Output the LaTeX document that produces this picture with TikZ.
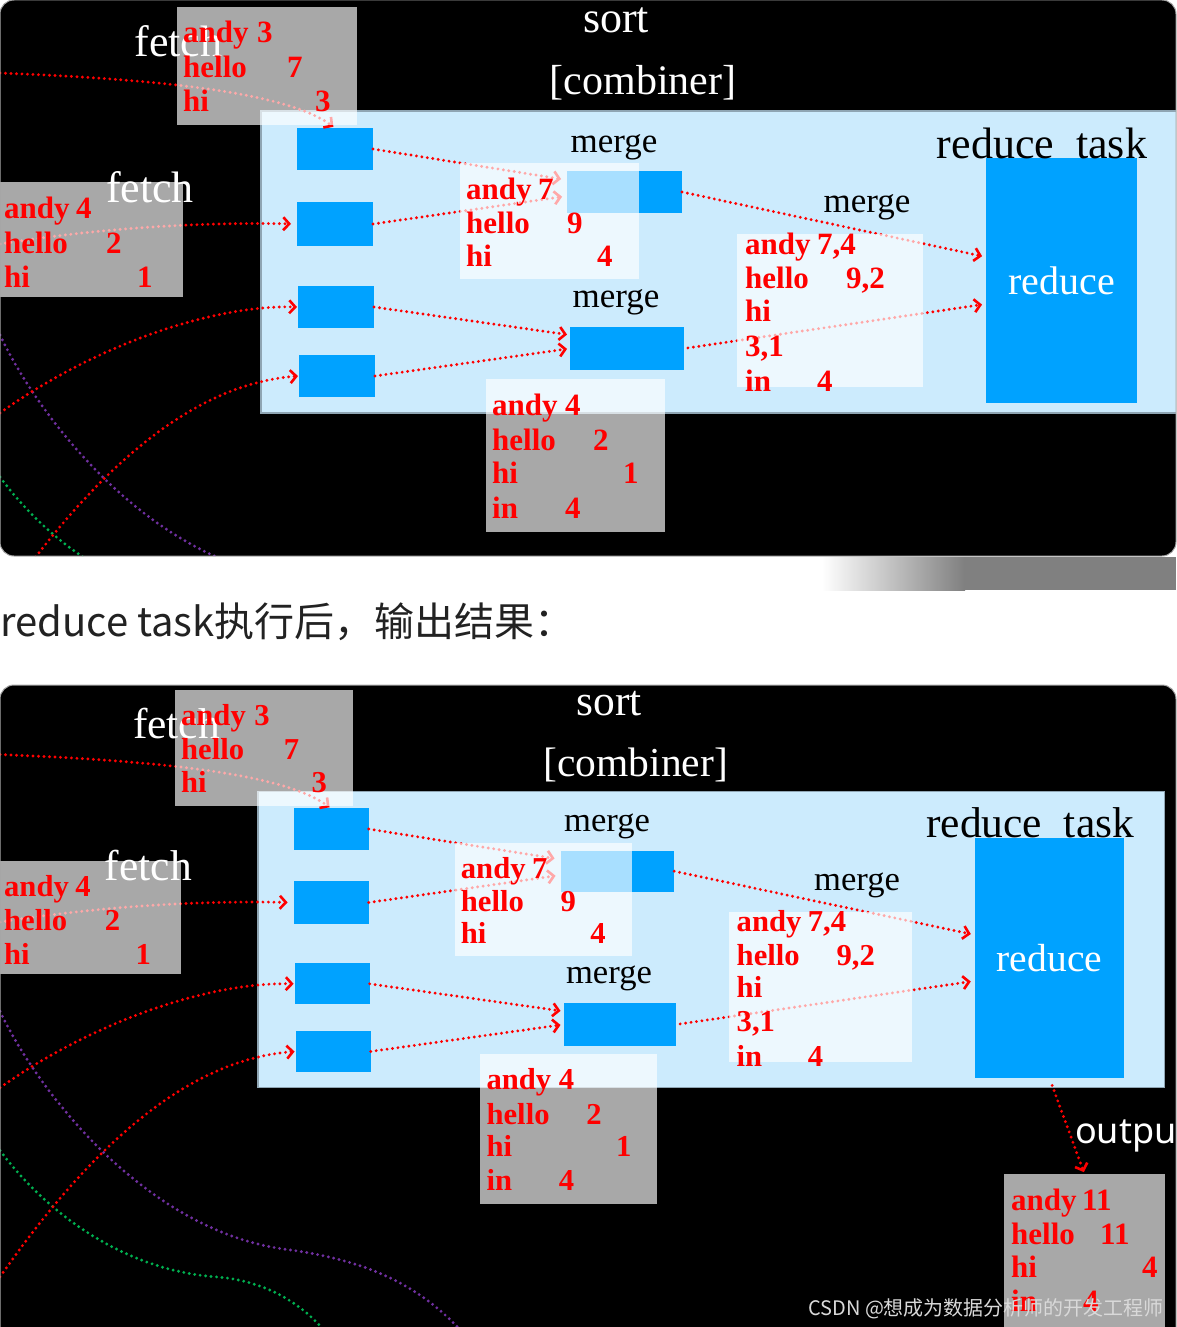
\documentclass[tikz,border=0pt]{standalone}
\usepackage{fontspec}
\usetikzlibrary{arrows.meta}
\newfontfamily\serifA{Liberation Serif}
\newfontfamily\sansA{Noto Sans}
\newfontfamily\cjkA{Noto Sans CJK SC}
\definecolor{regblue}{HTML}{CCEBFD}
\definecolor{regedge}{HTML}{8FA5B3}
\definecolor{boxblue}{HTML}{00A2FF}
\definecolor{datred}{HTML}{FF0000}
\definecolor{cpurple}{HTML}{7030A0}
\definecolor{cgreen}{HTML}{00B050}
\definecolor{captxt}{HTML}{222222}
\definecolor{wmark}{HTML}{D9D9D9}
\tikzset{
  region/.style={fill=regblue, draw=regedge, line width=1.2pt, inner sep=0pt, outer sep=0pt},
  blk/.style={fill=boxblue, draw=none, inner sep=0pt, outer sep=0pt},
  veil/.style={fill=white, fill opacity=0.66, draw=none, inner sep=0pt, outer sep=0pt},
  wlbl/.style={anchor=base, inner sep=0pt, text=white, font=\serifA\fontsize{44}{48}\selectfont},
  blbl/.style={anchor=base, inner sep=0pt, text=black, font=\serifA\fontsize{35}{38}\selectfont},
  dat/.style={anchor=base west, inner sep=0pt, text=datred, font=\serifA\bfseries\fontsize{31}{34}\selectfont},
  arr/.style={draw=datred, line width=3.2pt, line cap=round, dash pattern=on 0pt off 5.5pt,
    -{Straight Barb[length=6pt,width=13pt,line width=2.6pt]}},
  curve/.style={line width=3.2pt, line cap=round, dash pattern=on 0pt off 5.5pt},
}
\newcommand\kv[6]{%
  \node[dat] (#1k) at (#2,#3) {#4};
  \node[dat] (#1v) at (#5,#3) {#6};}
\newcommand\kone[4]{\node[dat] (#1k) at (#2,#3) {#4};}
\newcommand\drawslide[1]{%
  % light blue task region
  \node[region, minimum width=917pt, minimum height=302pt, anchor=north west] (#1reg) at (261,111) {};
  % blue boxes
  \node[blk, minimum width=76pt, minimum height=42pt] (#1b1) at (335,149) {};
  \node[blk, minimum width=76pt, minimum height=44pt] (#1b2) at (335,224) {};
  \node[blk, minimum width=76pt, minimum height=42pt] (#1b3) at (336,307) {};
  \node[blk, minimum width=76pt, minimum height=42pt] (#1b4) at (337,376) {};
  \node[blk, minimum width=115pt, minimum height=42pt] (#1m1) at (624.5,192) {};
  \node[blk, minimum width=114pt, minimum height=43pt] (#1m2) at (627,348.5) {};
  \node[blk, minimum width=151pt, minimum height=245pt, text=white,
        font=\serifA\fontsize{40}{44}\selectfont] (#1red) at (1061.5,280.5) {reduce};
  % labels
  \node[wlbl] (#1fa) at (178.5,57) {fetch};
  \node[wlbl] (#1fb) at (150,202) {fetch};
  \node[wlbl] (#1so) at (616,33) {sort};
  \node[wlbl, font=\serifA\fontsize{42}{46}\selectfont] (#1co) at (643,95) {[combiner]};
  \node[blbl] (#1mg1) at (614,152) {merge};
  \node[blbl] (#1mg2) at (616,307) {merge};
  \node[blbl] (#1mg3) at (867,212) {merge};
  \node[blbl, font=\serifA\fontsize{44}{48}\selectfont] (#1rt) at (1042,158) {reduce\hspace{0.5em}task};
  % free starts of the incoming lines
  \coordinate (#1s1) at (0,73);
  \coordinate (#1s2) at (0,244);
  \coordinate (#1s3) at (0,413);
  \coordinate (#1s4) at (0,606);
  % background curves
  \draw[curve, draw=cpurple] (0,335) .. controls (40,420) and (150,560) .. (290,578)
        .. controls (380,590) and (430,620) .. (470,665);
  \draw[curve, draw=cgreen] (0,477) .. controls (50,545) and (130,600) .. (219,606)
        .. controls (270,610) and (310,635) .. (335,670);
  % incoming arrows
  \draw[arr, shorten >=2pt] (#1s1) .. controls (180,80) and (290,95) .. (#1b1.north);
  \draw[arr, shorten >=6pt] (#1s2) .. controls (100,228) and (200,222) .. (#1b2.west);
  \draw[arr, shorten >=1pt] (#1s3) .. controls (80,355) and (200,305) .. (#1b3.west);
  \draw[arr, shorten >=1pt] (#1s4) .. controls (80,490) and (180,385) .. (#1b4.west);
  % merge arrows
  \draw[arr, shorten >=6pt] (#1b1.east) -- ([yshift=12pt]#1m1.west);
  \draw[arr, shorten >=5pt] (#1b2.east) -- ([yshift=-4pt]#1m1.west);
  \draw[arr, shorten >=3pt] (#1b3.east) -- ([yshift=13.5pt]#1m2.west);
  \draw[arr, shorten >=3pt] (#1b4.east) -- ([yshift=0pt]#1m2.west);
  \draw[arr, shorten >=4pt] (#1m1.east) -- ([yshift=23.5pt]#1red.west);
  \draw[arr, shorten <=4pt, shorten >=4pt] (#1m2.east) -- ([yshift=-23.5pt]#1red.west);
  % translucent data cards
  \node[veil, minimum width=180pt, minimum height=118pt, anchor=north west] (#1v1) at (177,7) {};
  \node[veil, minimum width=183pt, minimum height=115pt, anchor=north west] (#1v2) at (0,182) {};
  \node[veil, minimum width=179pt, minimum height=116pt, anchor=north west] (#1v3) at (460,163) {};
  \node[veil, minimum width=186pt, minimum height=153pt, anchor=north west] (#1v4) at (737,234) {};
  \node[veil, minimum width=179pt, minimum height=153pt, anchor=north west] (#1v5) at (486,379) {};
  % red data text
  \kv{#1a1}{183}{43}{andy}{257}{3}
  \kv{#1a2}{183}{78}{hello}{287}{7}
  \kv{#1a3}{183}{112}{hi}{315}{3}
  \kv{#1c1}{4}{218}{andy}{76}{4}
  \kv{#1c2}{4}{253}{hello}{106}{2}
  \kv{#1c3}{4}{287}{hi}{137}{1}
  \kv{#1d1}{466}{199}{andy}{538}{7}
  \kv{#1d2}{466}{233}{hello}{567}{9}
  \kv{#1d3}{466}{266}{hi}{597}{4}
  \kv{#1e1}{745}{254}{andy}{817}{7,4}
  \kv{#1e2}{745}{288}{hello}{846}{9,2}
  \kone{#1e3}{745}{321}{hi}
  \kone{#1e4}{745}{356}{3,1}
  \kv{#1e5}{745}{391}{in}{817}{4}
  \kv{#1f1}{492}{415}{andy}{565}{4}
  \kv{#1f2}{492}{450}{hello}{593}{2}
  \kv{#1f3}{492}{483}{hi}{623}{1}
  \kv{#1f4}{492}{518}{in}{565}{4}
}
\begin{document}
\begin{tikzpicture}[x=1pt,y=-1pt]
  \useasboundingbox (0,0) rectangle (1176,1327);
  \fill[white] (0,0) rectangle (1176,1327);
  % ---------- top slide ----------
  \begin{scope}
    \clip[rounded corners=14pt] (0,0) rectangle (1176,556);
    \fill[black] (0,0) rectangle (1176,556);
    \drawslide{T}
  \end{scope}
  \draw[gray!70, line width=1pt, rounded corners=14pt] (0,0) rectangle (1176,556);
  % gradient strip
  \shade[left color=white, right color=gray] (822,557) rectangle (965,590);
  \fill[gray] (965,557) rectangle (1176,590);
  % caption
  \node[anchor=base west, inner sep=0pt, text=captxt, font=\cjkA\fontsize{40}{44}\selectfont] (cap) at (0,636) {reduce task执行后，输出结果：};
  % ---------- bottom slide ----------
  \begin{scope}
    \clip[rounded corners=14pt] (0,685) rectangle (1176,1360);
    \fill[black] (0,685) rectangle (1176,1360);
    \begin{scope}[shift={(0,683)}, xscale=0.9886, yscale=0.98, transform shape]
      \drawslide{B}
    \end{scope}
    \node[anchor=base west, inner sep=0pt, text=white, font=\sansA\fontsize{36}{40}\selectfont] (outlbl) at (1075,1143) {output};
    \draw[arr, shorten <=8pt, shorten >=2pt] (Bred.south) -- (1084.5,1174) coordinate (outtop);
    \node[veil, minimum width=161pt, minimum height=170pt, anchor=north west] (out) at (1004,1174) {};
    \kv{o1}{1011}{1210}{andy}{1082}{11}
    \kv{o2}{1011}{1244}{hello}{1100}{11}
    \kv{o3}{1011}{1277}{hi}{1142}{4}
    \kv{o4}{1011}{1311}{in}{1083}{4}
    \node[anchor=base west, inner sep=0pt, text=wmark, font=\cjkA\fontsize{20}{22}\selectfont] (wm) at (808,1315) {CSDN @想成为数据分析师的开发工程师};
  \end{scope}
  \draw[gray!70, line width=1pt, rounded corners=14pt] (0,1360) -- (0,685) -- (1176,685) -- (1176,1360);
\end{tikzpicture}
\end{document}
